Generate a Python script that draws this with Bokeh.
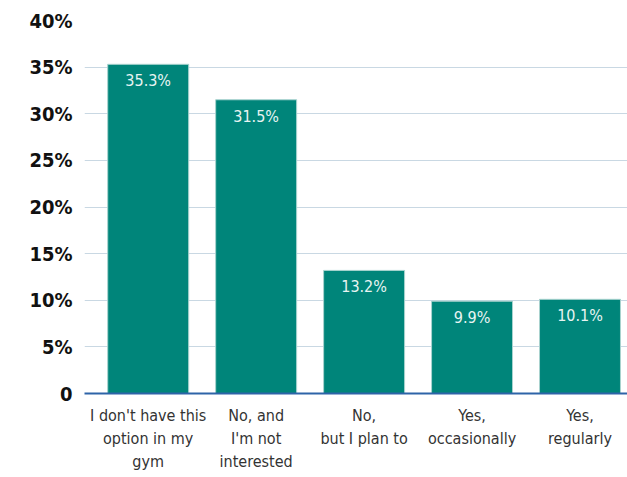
from bokeh.plotting import figure
from bokeh.models import ColumnDataSource, LabelSet, LinearAxis, FixedTicker
from bokeh.core.properties import value
from bokeh.embed import file_html
from bokeh.resources import INLINE

categories = ["I don't have this\noption in my\ngym", "No, and\nI'm not\ninterested",
              "No,\nbut I plan to", "Yes,\noccasionally", "Yes,\nregularly"]
values = [35.3, 31.5, 13.2, 9.9, 10.1]
labels = ["35.3%", "31.5%", "13.2%", "9.9%", "10.1%"]
y_ticks = [0, 5, 10, 15, 20, 25, 30, 35, 40]

xs = list(range(len(categories)))
src = ColumnDataSource(dict(x=xs, val=values, lab=labels))

FONT = "DejaVu Sans Condensed"

p = figure(x_range=(-0.59, 4.44), y_range=(0, 40),
           width=627, height=477, output_backend="svg", toolbar_location=None,
           min_border_left=84, min_border_right=0, min_border_top=20, min_border_bottom=84)
p.outline_line_color = None
p.vbar(x="x", top="val", width=0.75, source=src, fill_color="#00857a",
       line_color="#a9d3cf", line_width=1)

lbl = LabelSet(x="x", y="val", text="lab", source=src, text_align="center",
               text_baseline="top", y_offset=-7, text_color="#e8f4f2",
               text_font=value(FONT), text_font_size="16px")
p.add_layout(lbl)

p.yaxis.ticker = y_ticks
p.yaxis.major_label_overrides = {0: "0"}
p.yaxis.major_label_overrides.update({t: f"{t}%" for t in y_ticks if t})
p.yaxis.axis_line_color = None
p.yaxis.major_tick_line_color = None
p.yaxis.major_tick_out = 0
p.yaxis.major_tick_in = 0
p.yaxis.minor_tick_line_color = None
p.yaxis.major_label_text_font = FONT
p.yaxis.major_label_text_font_style = "bold"
p.yaxis.major_label_text_font_size = "20px"
p.yaxis.major_label_text_color = "#111111"
p.yaxis.major_label_standoff = 12

# category labels: one axis per text line, stacked below the plot
lines = [c.split("\n") for c in categories]
nlines = max(len(l) for l in lines)
axes = [p.xaxis[0]]
for i in range(1, nlines):
    ax = LinearAxis()
    p.add_layout(ax, "below")
    axes.append(ax)
for i, ax in enumerate(axes):
    ax.ticker = FixedTicker(ticks=xs)
    ax.major_label_overrides = {x: (l[i] if i < len(l) else "") for x, l in zip(xs, lines)}
    ax.major_tick_line_color = None
    ax.major_tick_out = 0
    ax.major_tick_in = 0
    ax.minor_tick_line_color = None
    ax.major_label_text_font = FONT
    ax.major_label_text_font_size = "16px"
    ax.major_label_text_color = "#333333"
    ax.major_label_standoff = 12 if i == 0 else 1
    if i == 0:
        ax.axis_line_color = "#2e64a8"
        ax.axis_line_width = 2
    else:
        ax.axis_line_color = None

p.xgrid.grid_line_color = None
p.ygrid.grid_line_color = "#c9d8e3"
p.ygrid.grid_line_width = 1

open("out.html", "w").write(file_html(p, INLINE))
